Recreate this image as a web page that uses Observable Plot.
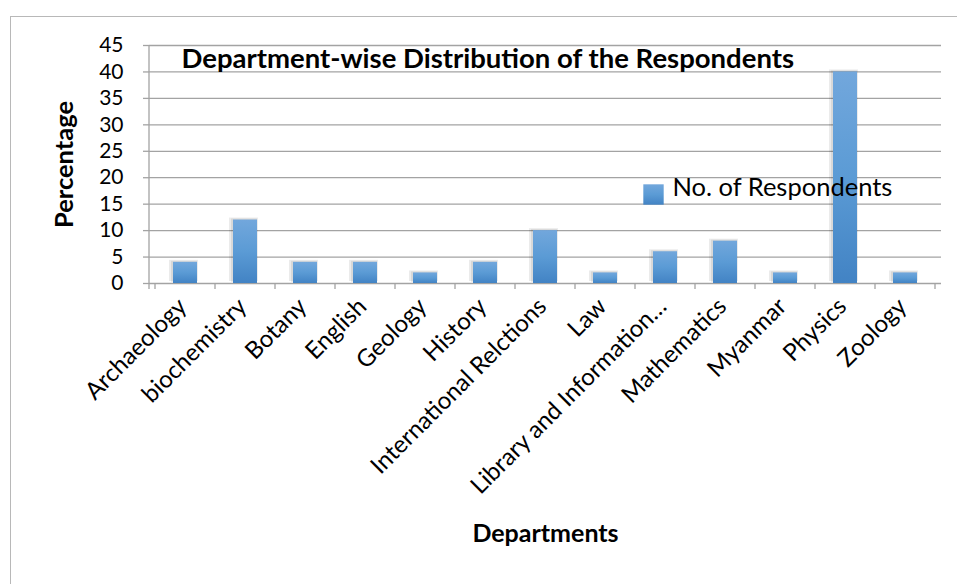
<!DOCTYPE html>
<html><head><meta charset="utf-8">
<script src="https://cdn.jsdelivr.net/npm/d3@7"></script>
<script src="https://cdn.jsdelivr.net/npm/@observablehq/plot@0.6"></script>
<style>
body{margin:0;background:#fff;}
#wrap{position:relative;width:957px;height:584px;}
#frame{position:absolute;left:10px;top:16px;right:0;bottom:0;border-top:1.5px solid #b8b8b8;border-left:1.5px solid #b8b8b8;pointer-events:none;}
#wrap svg{position:absolute;left:0;top:0;}
</style></head><body><div id="wrap"><div id="frame"></div></div>
<script>
const departments = ["Archaeology","biochemistry","Botany","English","Geology","History","International Relctions","Law","Library and Information…","Mathematics","Myanmar","Physics","Zoology"];
const respondents = [4,12,4,4,2,4,10,2,6,8,2,40,2];
const yTicks = [0,5,10,15,20,25,30,35,40,45];
const title = "Department-wise Distribution of the Respondents";
const legendLabel = "No. of Respondents";
const yLabel = "Percentage";
const xLabel = "Departments";

const data = departments.map((d, i) => ({department: d, value: respondents[i]}));
const font = "Lato, 'Open Sans', sans-serif";
const gridColor = "#a3a3a3";

function axisLines(index, scales, values, dims) {
  const x = scales.x;
  const n = departments.length;
  const bw = x.bandwidth ? x.bandwidth() : (dims.width - dims.marginLeft - dims.marginRight) / n;
  const y0 = dims.height - dims.marginBottom;
  const g = d3.create("svg:g").attr("stroke", gridColor).attr("stroke-width", 1.3);
  const xs = departments.map(d => x(d));
  xs.push(x(departments[n - 1]) + bw);
  for (const v of xs) g.append("line").attr("x1", v).attr("x2", v).attr("y1", y0).attr("y2", y0 + 6);
  g.append("line").attr("x1", dims.marginLeft).attr("x2", dims.marginLeft)
    .attr("y1", dims.marginTop).attr("y2", y0 + 6);
  return g.node();
}

const chart = Plot.plot({
  width: 957,
  height: 584,
  marginLeft: 149,
  marginRight: 16,
  marginTop: 45,
  marginBottom: 301,
  style: {background: "transparent", fontFamily: font, color: "#000"},
  x: {domain: departments, padding: 0, label: null},
  y: {domain: [0, 45], label: null},
  marks: [
    Plot.gridY(yTicks, {stroke: gridColor, strokeOpacity: 1, strokeWidth: 1.3}),
    Plot.axisY(yTicks, {tickSize: 6, tickPadding: 20, fontSize: 21, label: null, stroke: gridColor, strokeWidth: 1.3}),
    axisLines,
    Plot.barY(data, {x: "department", y: "value", insetLeft: 14, insetRight: 17, fill: "#000", fillOpacity: 0.08, dy: -2}),
    Plot.barY(data, {x: "department", y: "value", insetLeft: 16, insetRight: 18, fill: "#000", fillOpacity: 0.08, dy: -1}),
    Plot.barY(data, {x: "department", y: "value", insetLeft: 18, insetRight: 18, fill: "url(#barGrad)"}),
    Plot.axisX({tickSize: 0, tickRotate: -45, fontSize: 24, tickPadding: 19, dx: -3, label: null}),
    Plot.text([title], {frameAnchor: "top-left", dx: 32, dy: 14, textAnchor: "start", lineAnchor: "middle", fontSize: 27.5, fontWeight: "bold", fill: "#000"}),
    Plot.dot([legendLabel], {frameAnchor: "top-left", dx: 504, dy: 149, symbol: "square", r: 11.5, fill: "url(#barGrad)", stroke: null}),
    Plot.text([legendLabel], {frameAnchor: "top-left", dx: 523, dy: 142, textAnchor: "start", lineAnchor: "middle", fontSize: 25.5, fill: "#000"}),
    Plot.text([yLabel], {frameAnchor: "left", dx: -85, rotate: -90, textAnchor: "middle", lineAnchor: "middle", fontSize: 25.5, fontWeight: "bold", fill: "#000"}),
    Plot.text([xLabel], {frameAnchor: "bottom", dy: 250, textAnchor: "middle", lineAnchor: "middle", fontSize: 25, fontWeight: "bold", fill: "#000"})
  ]
});

const svg = d3.select(chart);
const defs = svg.insert("defs", ":first-child");
const grad = defs.append("linearGradient").attr("id", "barGrad")
  .attr("x1", 0).attr("y1", 0).attr("x2", 0).attr("y2", 1);
grad.append("stop").attr("offset", "0%").attr("stop-color", "#72a7dc");
grad.append("stop").attr("offset", "50%").attr("stop-color", "#5b9bd5");
grad.append("stop").attr("offset", "100%").attr("stop-color", "#4283c4");

document.getElementById("wrap").appendChild(chart);
</script>
</body></html>
